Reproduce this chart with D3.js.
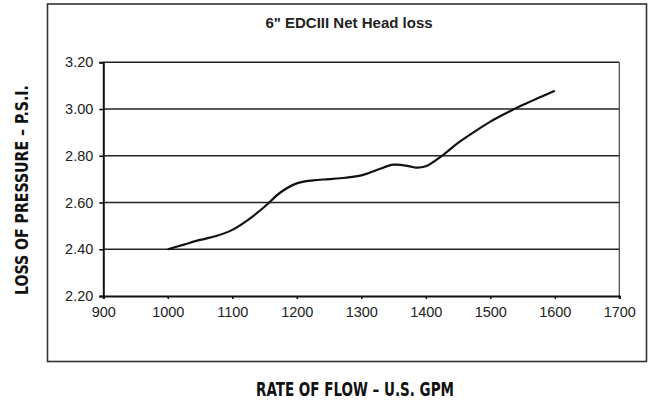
<!DOCTYPE html>
<html><head><meta charset="utf-8">
<script src="https://cdn.jsdelivr.net/npm/d3@7"></script>
<style>
html,body{margin:0;padding:0;background:#fff;}
svg{display:block;}
</style></head>
<body>
<script>
const flow = [1000,1025,1050,1075,1100,1125,1150,1175,1200,1225,1250,1275,1300,1325,1350,1375,1385,1400,1425,1450,1475,1500,1525,1550,1575,1600];
const loss = [2.400,2.420,2.440,2.457,2.483,2.527,2.582,2.644,2.682,2.695,2.700,2.706,2.716,2.740,2.762,2.755,2.749,2.755,2.800,2.855,2.902,2.946,2.983,3.017,3.048,3.078];
const xTicks = [900,1000,1100,1200,1300,1400,1500,1600,1700];
const yTicks = [2.2,2.4,2.6,2.8,3.0,3.2];
const title = '6" EDCIII Net Head loss';
const xTitle = "RATE OF FLOW \u2013 U.S. GPM";
const yTitle = "LOSS OF PRESSURE \u2013 P.S.I.";

const W = 653, H = 402;
const svg = d3.select("body").append("svg").attr("width", W).attr("height", H);

// outer frame
svg.append("rect").attr("x",47.5).attr("y",4).attr("width",599).attr("height",357.5)
  .attr("fill","#fff").attr("stroke","#333").attr("stroke-width",1.6);

const L = 103.3, R = 619.3, T = 62.3, B = 296;
const x = d3.scaleLinear().domain([900,1700]).range([L,R]);
const y = d3.scaleLinear().domain([2.2,3.2]).range([B,T]);

// gridlines
svg.append("g").selectAll("line").data(yTicks.filter(d=>d>2.2)).join("line")
  .attr("x1",L).attr("x2",R).attr("y1",d=>y(d)).attr("y2",d=>y(d))
  .attr("stroke","#222").attr("stroke-width",1.6);
// right border
svg.append("line").attr("x1",R).attr("x2",R).attr("y1",T).attr("y2",B)
  .attr("stroke","#444").attr("stroke-width",1.2);

const font = "'Liberation Sans', Arial, sans-serif";
// y axis
const ya = svg.append("g").attr("transform",`translate(${L},0)`)
  .call(d3.axisLeft(y).tickValues(yTicks).tickFormat(d3.format(".2f")).tickSize(4).tickPadding(6));
ya.select(".domain").attr("stroke","#111").attr("stroke-width",2);
ya.selectAll(".tick line").attr("stroke","#111").attr("stroke-width",1.6);
ya.selectAll("text").attr("font-family",font).attr("font-size",14.5).attr("fill","#222");

// x axis
const xa = svg.append("g").attr("transform",`translate(0,${B})`)
  .call(d3.axisBottom(x).tickValues(xTicks).tickFormat(d3.format("d")).tickSize(3).tickPadding(8));
xa.select(".domain").attr("stroke","#111").attr("stroke-width",2);
xa.selectAll(".tick line").attr("stroke","#111").attr("stroke-width",1.6);
xa.selectAll("text").attr("font-family",font).attr("font-size",14.5).attr("fill","#222");

// curve
const pts = flow.map((f,i)=>[f,loss[i]]);
svg.append("path").datum(pts)
  .attr("d", d3.line().x(d=>x(d[0])).y(d=>y(d[1])).curve(d3.curveCatmullRom.alpha(0.5)))
  .attr("fill","none").attr("stroke","#111").attr("stroke-width",2.2).attr("stroke-linejoin","round");

// title
svg.append("text").attr("x",349).attr("y",28).attr("text-anchor","middle")
  .attr("font-family",font).attr("font-weight","bold").attr("font-size",15).attr("fill","#222")
  .text(title);

// axis titles (condensed bold)
const condFont = "'DejaVu Sans Condensed','DejaVu Sans',sans-serif";
svg.append("text").attr("x",256).attr("y",396)
  .attr("font-family",condFont).attr("font-weight","bold").attr("font-size",20)
  .attr("font-stretch","condensed").attr("fill","#111")
  .attr("textLength",198).attr("lengthAdjust","spacingAndGlyphs")
  .text(xTitle);

svg.append("text").attr("transform","translate(28,295) rotate(-90)")
  .attr("x",0).attr("y",0)
  .attr("font-family",condFont).attr("font-weight","bold").attr("font-size",18)
  .attr("font-stretch","condensed").attr("fill","#111")
  .attr("textLength",210).attr("lengthAdjust","spacingAndGlyphs")
  .text(yTitle);
</script>
</body></html>
